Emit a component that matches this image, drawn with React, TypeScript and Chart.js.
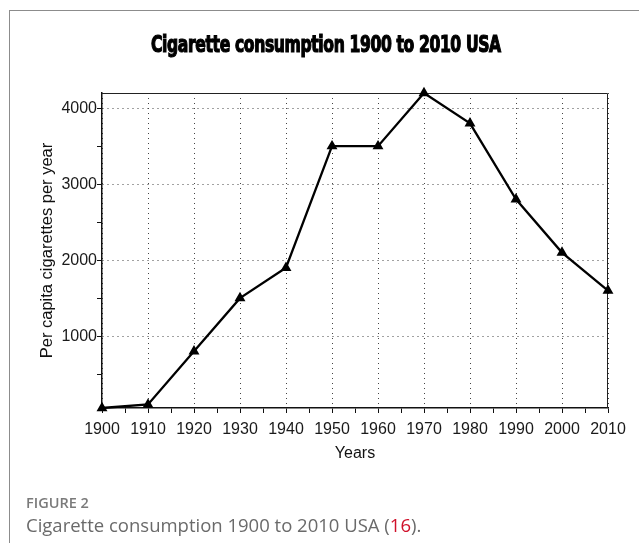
import React, { useEffect, useLayoutEffect, useRef, useState } from 'react';
import { Chart, registerables } from 'chart.js';

Chart.register(...registerables);

const chartTitle = 'Cigarette consumption 1900 to 2010 USA';
const xAxisTitle = 'Years';
const yAxisTitle = 'Per capita cigarettes per year';
const figureLabel = 'FIGURE 2';
const captionText = 'Cigarette consumption 1900 to 2010 USA (';
const captionRef = '16';
const captionEnd = ').';

const years = [1900, 1910, 1920, 1930, 1940, 1950, 1960, 1970, 1980, 1990, 2000, 2010];
const consumption = [54, 100, 800, 1500, 1900, 3500, 3500, 4200, 3800, 2800, 2100, 1600];

const xTickValues = [1900, 1905, 1910, 1915, 1920, 1925, 1930, 1935, 1940, 1945, 1950, 1955, 1960, 1965, 1970, 1975, 1980, 1985, 1990, 1995, 2000, 2005, 2010];
const xLabeledTicks = [1900, 1910, 1920, 1930, 1940, 1950, 1960, 1970, 1980, 1990, 2000, 2010];
const yTickValues = [500, 1000, 1500, 2000, 2500, 3000, 3500, 4000];
const yLabeledTicks = [1000, 2000, 3000, 4000];

const W = 639;
const H = 543;

const frameBorder = {
  id: 'frameBorder',
  beforeDatasetsDraw(chart: any) {
    const { ctx, chartArea } = chart;
    ctx.save();
    ctx.strokeStyle = '#222';
    ctx.lineWidth = 1;
    ctx.beginPath();
    ctx.moveTo(chartArea.left, chartArea.top + 0.5);
    ctx.lineTo(chartArea.right - 0.5, chartArea.top + 0.5);
    ctx.lineTo(chartArea.right - 0.5, chartArea.bottom);
    ctx.stroke();
    ctx.restore();
  },
};

export default function App() {
  const canvasRef = useRef<HTMLCanvasElement | null>(null);
  const titleRef = useRef<HTMLSpanElement | null>(null);
  const [titleScale, setTitleScale] = useState(1);

  useLayoutEffect(() => {
    if (titleRef.current) {
      const w = titleRef.current.offsetWidth;
      if (w > 0) setTitleScale(350 / w);
    }
  }, []);

  useEffect(() => {
    if (!canvasRef.current) return;
    const tickFont = { family: "'Liberation Sans', Arial, sans-serif", size: 16 };
    const chart = new Chart(canvasRef.current, {
      type: 'line',
      data: {
        datasets: [
          {
            data: years.map((y, i) => ({ x: y, y: consumption[i] })),
            borderColor: '#000',
            backgroundColor: '#000',
            borderWidth: 2.3,
            pointStyle: 'triangle',
            pointRadius: 4,
            pointHoverRadius: 4,
            tension: 0,
            clip: false as any,
          },
        ],
      },
      plugins: [frameBorder],
      options: {
        responsive: false,
        animation: false,
        events: [],
        layout: { padding: { left: 30, top: 93, right: 31, bottom: 80 } },
        plugins: {
          legend: { display: false },
          tooltip: { enabled: false },
          title: { display: false },
        },
        scales: {
          x: {
            type: 'linear',
            min: years[0],
            max: years[years.length - 1],
            afterFit(scale: any) {
              scale.height = 55;
            },
            afterBuildTicks(scale: any) {
              scale.ticks = xTickValues.map((v) => ({ value: v }));
            },
            ticks: {
              autoSkip: false,
              maxRotation: 0,
              padding: 7,
              color: '#1a1a1a',
              font: tickFont,
              callback: (v: any) => (xLabeledTicks.includes(Number(v)) ? String(v) : ''),
            },
            grid: {
              color: (c: any) => (c.tick && xLabeledTicks.includes(c.tick.value) ? '#444' : 'rgba(0,0,0,0)'),
              tickColor: '#111',
              tickLength: 5,
              lineWidth: 1,
            },
            border: { color: '#111', width: 1.5, dash: [1, 4] },
            title: {
              display: true,
              text: xAxisTitle,
              color: '#111',
              font: { family: "'Liberation Sans', Arial, sans-serif", size: 16 },
              padding: { top: 0, bottom: 0 },
            },
          },
          y: {
            type: 'linear',
            min: Math.min(...consumption),
            max: Math.max(...consumption),
            afterFit(scale: any) {
              scale.width = 72;
            },
            afterBuildTicks(scale: any) {
              scale.ticks = yTickValues.map((v) => ({ value: v }));
            },
            ticks: {
              autoSkip: false,
              padding: 0,
              color: '#1a1a1a',
              font: tickFont,
              callback: (v: any) => (yLabeledTicks.includes(Number(v)) ? String(v) : ''),
            },
            grid: {
              color: (c: any) => (c.tick && yLabeledTicks.includes(c.tick.value) ? '#444' : 'rgba(0,0,0,0)'),
              tickColor: '#111',
              tickLength: 5,
              lineWidth: 1,
            },
            border: { color: '#111', width: 1.5, dash: [1, 4] },
            title: {
              display: true,
              text: yAxisTitle,
              color: '#111',
              font: { family: "'Liberation Sans', Arial, sans-serif", size: 16.5 },
              padding: { top: 8, bottom: 0 },
            },
          },
        },
      } as any,
    });
    return () => chart.destroy();
  }, []);

  return (
    <div style={{ position: 'fixed', left: 0, top: 0, width: W, height: H, overflow: 'hidden', background: '#fff' }}>
      <div
        style={{
          position: 'absolute',
          left: 9,
          top: 10,
          width: 700,
          height: 600,
          border: '1px solid #8c8c8c',
        }}
      />
      <canvas ref={canvasRef} width={W} height={H} style={{ position: 'absolute', left: 0, top: 0 }} />
      <div
        style={{
          position: 'absolute',
          left: 151,
          top: 33,
          whiteSpace: 'nowrap',
          transformOrigin: '0 0',
          transform: `scaleX(${titleScale})`,
        }}
      >
        <span
          ref={titleRef}
          style={{
            fontFamily: "'DejaVu Sans Condensed', 'DejaVu Sans', sans-serif",
            fontWeight: 700,
            fontSize: 23,
            lineHeight: '23px',
            color: '#000',
            display: 'inline-block',
            WebkitTextStroke: '1.2px #000',
            letterSpacing: '-0.5px',
          }}
        >
          {chartTitle}
        </span>
      </div>
      <div
        style={{
          position: 'absolute',
          left: 26,
          top: 494,
          fontFamily: "'Open Sans', 'Noto Sans', sans-serif",
          fontWeight: 600,
          fontSize: 14.5,
          lineHeight: '18px',
          color: '#7a7a7a',
          whiteSpace: 'nowrap',
        }}
      >
        {figureLabel}
      </div>
      <div
        style={{
          position: 'absolute',
          left: 26,
          top: 513,
          fontFamily: "'Open Sans', 'Noto Sans', sans-serif",
          fontWeight: 400,
          fontSize: 18.5,
          lineHeight: '24px',
          color: '#6a6a6a',
          whiteSpace: 'nowrap',
        }}
      >
        {captionText}
        <span style={{ color: '#d0102a' }}>{captionRef}</span>
        {captionEnd}
      </div>
    </div>
  );
}
